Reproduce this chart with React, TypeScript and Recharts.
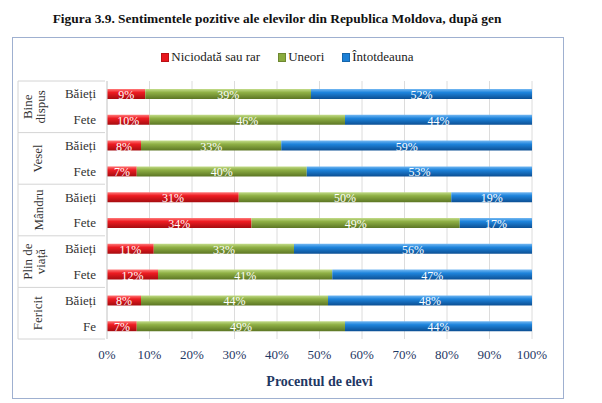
import React from "react";
import { BarChart, Bar, XAxis, YAxis, CartesianGrid, LabelList } from "recharts";

// row labels (top to bottom)
const subLabels = ["Băieți", "Fete", "Băieți", "Fete", "Băieți", "Fete", "Băieți", "Fete", "Băieți", "Fe"];
const groupLines = [["Bine", "dispus"], ["Vesel"], ["Mândru"], ["Plin de", "viață"], ["Fericit"]];

// percentages per row
const niciodata = [9, 10, 8, 7, 31, 34, 11, 12, 8, 7];
const uneori = [39, 46, 33, 40, 50, 49, 33, 41, 44, 49];
const intotdeauna = [52, 44, 59, 53, 19, 17, 56, 47, 48, 44];

const xTicks = [0, 10, 20, 30, 40, 50, 60, 70, 80, 90, 100];

const SERIES = [
  { key: "niciodata", name: "Niciodată sau rar", grad: "gRed", color: "#e8161c" },
  { key: "uneori", name: "Uneori", grad: "gGreen", color: "#8aab3e" },
  { key: "intotdeauna", name: "Întotdeauna", grad: "gBlue", color: "#1c80d6" },
];

const data = subLabels.map((s, i) => ({
  id: `r${i}`,
  sub: s,
  niciodata: niciodata[i],
  uneori: uneori[i],
  intotdeauna: intotdeauna[i],
}));

const SERIF = "'Liberation Serif', 'Times New Roman', serif";
const BAND = 25.8;

function YTick(props: any) {
  const { y, payload, index } = props;
  const i = index ?? data.findIndex((d) => d.id === payload.value);
  const row = data[i];
  const els: React.ReactNode[] = [];
  els.push(
    <text key="s" x={96} y={y} dy={4.5} textAnchor="end" style={{ fontFamily: SERIF, fontSize: 13 }} fill="#333">
      {row ? row.sub : ""}
    </text>
  );
  if (i % 2 === 0) {
    const g = groupLines[i / 2];
    const cy = y + BAND / 2;
    const top = y - BAND / 2;
    els.push(<line key="t" x1={18} x2={105} y1={top} y2={top} stroke="#d4d4d4" />);
    els.push(<line key="v" x1={18} x2={18} y1={top} y2={top + BAND * 2} stroke="#d4d4d4" />);
    if (i === data.length - 2) {
      els.push(<line key="b" x1={18} x2={105} y1={top + BAND * 2} y2={top + BAND * 2} stroke="#d4d4d4" />);
    }
    g.forEach((ln, k) => {
      const lx = g.length === 1 ? 38 : 28 + k * 13;
      els.push(
        <text
          key={`g${k}`}
          x={lx}
          y={cy}
          textAnchor="middle"
          dominantBaseline="central"
          transform={`rotate(-90 ${lx} ${cy})`}
          style={{ fontFamily: SERIF, fontSize: 13 }}
          fill="#333"
        >
          {ln}
        </text>
      );
    });
  }
  return <g>{els}</g>;
}

function XTick(props: any) {
  const { x, payload } = props;
  return (
    <text x={x} y={359} textAnchor="middle" style={{ fontFamily: SERIF, fontSize: 13 }} fill="#1f3864">
      {payload.value}%
    </text>
  );
}

function BarLabel(props: any) {
  const { x, y, width, height, value } = props;
  return (
    <text
      x={x + width / 2}
      y={y + height / 2 + 5}
      textAnchor="middle"
      style={{ fontFamily: SERIF, fontSize: 12 }}
      fill="#fff"
    >
      {value}%
    </text>
  );
}

function Legend() {
  return (
    <div
      style={{
        position: "absolute",
        top: 49,
        left: 12,
        width: 551,
        display: "flex",
        justifyContent: "center",
        gap: 18,
        fontFamily: SERIF,
        fontSize: 13,
        color: "#222",
      }}
    >
      {SERIES.map((s) => (
        <div key={s.key} style={{ display: "flex", alignItems: "center" }}>
          <span
            style={{
              display: "inline-block",
              width: 6,
              height: 7,
              marginRight: 2,
              background: s.color,
              border: "1px solid rgba(0,0,0,0.2)",
            }}
          />
          <span>{s.name}</span>
        </div>
      ))}
    </div>
  );
}

export default function App() {
  return (
    <div style={{ position: "absolute", left: 0, top: 0, width: 602, height: 403, background: "#fff" }}>
      <div
        style={{
          position: "absolute",
          top: 11,
          left: 0,
          width: 554,
          textAlign: "center",
          fontFamily: SERIF,
          fontWeight: "bold",
          fontSize: 13.4,
          color: "#111",
          whiteSpace: "nowrap",
        }}
      >
        Figura 3.9. Sentimentele pozitive ale elevilor din Republica Moldova, după gen
      </div>
      <div
        style={{
          position: "absolute",
          left: 12,
          top: 37,
          width: 550,
          height: 360,
          border: "1px solid #9fb0d0",
        }}
      />
      <Legend />
      <div style={{ position: "absolute", left: 0, top: 0 }}>
        <BarChart
          width={602}
          height={403}
          data={data}
          layout="vertical"
          margin={{ top: 81, right: 70, left: 18, bottom: 34 }}
          barCategoryGap={0}
        >
          <defs>
            <linearGradient id="gRed" x1="0" y1="0" x2="0" y2="1">
              <stop offset="0%" stopColor="#ff7a7a" />
              <stop offset="35%" stopColor="#ee1c22" />
              <stop offset="100%" stopColor="#a50c10" />
            </linearGradient>
            <linearGradient id="gGreen" x1="0" y1="0" x2="0" y2="1">
              <stop offset="0%" stopColor="#c3dc8a" />
              <stop offset="35%" stopColor="#8fb045" />
              <stop offset="100%" stopColor="#5c7624" />
            </linearGradient>
            <linearGradient id="gBlue" x1="0" y1="0" x2="0" y2="1">
              <stop offset="0%" stopColor="#74b8f2" />
              <stop offset="35%" stopColor="#1e84dc" />
              <stop offset="100%" stopColor="#0c4f93" />
            </linearGradient>
          </defs>
          <CartesianGrid horizontal={false} stroke="#dcdcdc" />
          <XAxis
            type="number"
            domain={[0, 100]}
            ticks={xTicks}
            axisLine={false}
            tickLine={false}
            height={30}
            tick={<XTick />}
            interval={0}
            label={{
              value: "Procentul de elevi",
              position: "insideBottom",
              offset: 0,
              dy: 17,
              style: { fontFamily: SERIF, fontWeight: "bold", fontSize: 14, fill: "#1f3864" },
            }}
          />
          <YAxis
            type="category"
            dataKey="id"
            width={89}
            axisLine={{ stroke: "#d4d4d4" }}
            tickLine={false}
            tick={<YTick />}
            interval={0}
          />
          {SERIES.map((s) => (
            <Bar
              key={s.key}
              dataKey={s.key}
              name={s.name}
              stackId="a"
              fill={`url(#${s.grad})`}
              barSize={10}
              isAnimationActive={false}
            >
              <LabelList dataKey={s.key} content={<BarLabel />} />
            </Bar>
          ))}
        </BarChart>
      </div>
    </div>
  );
}
